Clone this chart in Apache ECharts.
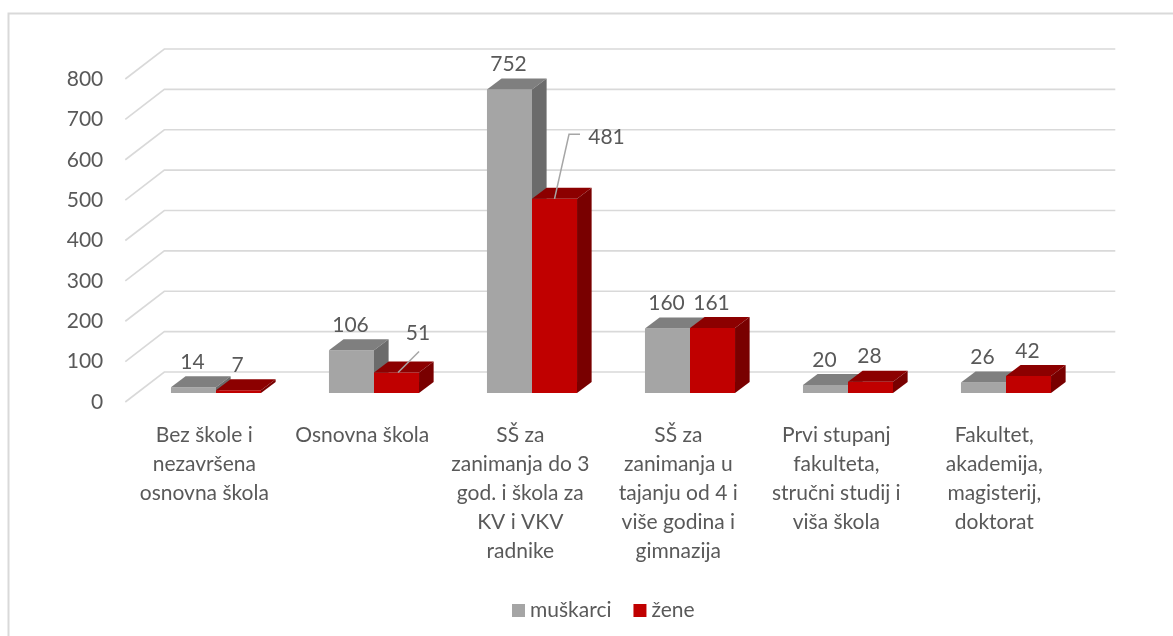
<!DOCTYPE html>
<html>
<head>
<meta charset="utf-8">
<script src="https://cdn.jsdelivr.net/npm/echarts@6/dist/echarts.min.js"></script>
<style>
  html, body { margin: 0; padding: 0; background: #ffffff; }
  #chart { width: 1173px; height: 636px; }
</style>
</head>
<body>
<div id="chart"></div>
<script>
// ---- data ----
const categories = [
  "Bez škole i\nnezavršena\nosnovna škola",
  "Osnovna škola",
  "SŠ za\nzanimanja do 3\ngod. i škola za\nKV i VKV\nradnike",
  "SŠ za\nzanimanja u\ntajanju od 4 i\nviše godina i\ngimnazija",
  "Prvi stupanj\nfakulteta,\nstručni studij i\nviša škola",
  "Fakultet,\nakademija,\nmagisterij,\ndoktorat"
];
const seriesNames = ["muškarci", "žene"];
const muskarci = [14, 106, 752, 160, 20, 26];
const zene = [7, 51, 481, 161, 28, 42];
const yTicks = [0, 100, 200, 300, 400, 500, 600, 700, 800];

// ---- styling / 3D geometry ----
const FONT = "Lato, 'Liberation Sans', sans-serif";
const TEXT = "#595959";
const GRID_LINE = "#D9D9D9";
const WALL_DX = 39, WALL_DY = -30;       // total floor depth
const BAR_DX = 14.6, BAR_DY = -11;       // bar depth
const COLORS = {
  "muškarci": { front: "#A5A5A5", top: "#7F7F7F", side: "#6B6B6B" },
  "žene":     { front: "#C00000", top: "#8C0000", side: "#790000" }
};
// special label placements (relative to front-top centre of bar)
const LABEL_OVERRIDES = {
  "žene-1": { dx: 21.5, dy: -39, leader: [[1.5, 0], [22.5, -21]] },
  "žene-2": { dx: 52, dy: -62, leader: [[0, 0], [14.5, -64.5], [25.5, -64.5]] }
};

const chart = echarts.init(document.getElementById('chart'));

function barRenderer(name, side) {
  const c = COLORS[name];
  return function (params, api) {
    const i = api.value(0), v = api.value(1);
    const base = api.coord([i, 0]);
    const top = api.coord([i, v]);
    const band = api.size([1, 0])[0];
    const w = band * 0.285;
    const x0 = side < 0 ? base[0] - w : base[0];
    const yT = top[1], yB = base[1];
    const children = [
      { type: 'rect', shape: { x: x0, y: yT, width: w, height: yB - yT }, style: { fill: c.front } },
      { type: 'polygon', shape: { points: [[x0, yT], [x0 + w, yT], [x0 + w + BAR_DX, yT + BAR_DY], [x0 + BAR_DX, yT + BAR_DY]] }, style: { fill: c.top } },
      { type: 'polygon', shape: { points: [[x0 + w, yT], [x0 + w + BAR_DX, yT + BAR_DY], [x0 + w + BAR_DX, yB + BAR_DY], [x0 + w, yB]] }, style: { fill: c.side } }
    ];
    const cx = x0 + w / 2;
    const ov = LABEL_OVERRIDES[name + '-' + params.dataIndex];
    let tx = cx - 1, ty = yT - 25;
    if (ov) {
      tx = cx + ov.dx; ty = yT + ov.dy;
      children.push({
        type: 'polyline',
        shape: { points: ov.leader.map(p => [cx + p[0], yT + p[1]]) },
        style: { stroke: '#A6A6A6', lineWidth: 1.5, fill: null }
      });
    }
    children.push({
      type: 'text', z2: 10,
      style: { text: String(v), x: tx, y: ty, fill: TEXT, font: '21px ' + FONT, align: 'center', verticalAlign: 'middle' }
    });
    return { type: 'group', children: children };
  };
}

function wallRenderer(params, api) {
  const y = api.coord([0, api.value(1)])[1];
  const x = params.coordSys.x;
  const wEnd = x + WALL_DX + params.coordSys.width + 3;
  return {
    type: 'polyline',
    shape: { points: [[x, y], [x + WALL_DX, y + WALL_DY], [wEnd, y + WALL_DY]] },
    style: { stroke: GRID_LINE, lineWidth: 1.6, fill: null }
  };
}

const option = {
  backgroundColor: '#ffffff',
  animation: false,
  graphic: [{
    type: 'rect', silent: true,
    shape: { x: 8.5, y: 13.5, width: 1300, height: 800 },
    style: { fill: null, stroke: '#D9D9D9', lineWidth: 2 }
  }],
  legend: {
    data: seriesNames,
    left: 507, top: 595,
    icon: 'rect', itemWidth: 13, itemHeight: 13, itemGap: 22,
    textStyle: { color: TEXT, fontSize: 21, fontFamily: FONT }
  },
  grid: [
    { left: 125.3, right: 99.7, top: 79, bottom: 234 },   // front plane (axis labels, wall lines)
    { left: 137, right: 88, top: 70, bottom: 243 }        // bar front plane
  ],
  xAxis: [
    {
      type: 'category', gridIndex: 0, data: categories,
      axisLine: { show: false }, axisTick: { show: false }, splitLine: { show: false },
      axisLabel: { interval: 0, margin: 18.5, color: TEXT, fontSize: 21, fontFamily: FONT, lineHeight: 29, align: 'center' }
    },
    { type: 'category', gridIndex: 1, data: categories, show: false }
  ],
  yAxis: [
    {
      type: 'value', gridIndex: 0, min: 0, max: 800, interval: 100,
      axisLine: { show: false }, axisTick: { show: false }, splitLine: { show: false },
      axisLabel: { margin: 22, color: TEXT, fontSize: 21, fontFamily: FONT }
    },
    { type: 'value', gridIndex: 1, min: 0, max: 800, interval: 100, show: false, splitLine: { show: false } }
  ],
  series: [
    {
      name: 'wall', type: 'custom', xAxisIndex: 0, yAxisIndex: 0, silent: true, z: 1,
      renderItem: wallRenderer,
      data: yTicks.map(v => [0, v])
    },
    {
      name: seriesNames[0], type: 'custom', xAxisIndex: 1, yAxisIndex: 1, z: 3,
      itemStyle: { color: COLORS[seriesNames[0]].front },
      renderItem: barRenderer(seriesNames[0], -1),
      data: muskarci.map((v, i) => [i, v])
    },
    {
      name: seriesNames[1], type: 'custom', xAxisIndex: 1, yAxisIndex: 1, z: 4,
      itemStyle: { color: COLORS[seriesNames[1]].front },
      renderItem: barRenderer(seriesNames[1], 1),
      data: zene.map((v, i) => [i, v])
    }
  ]
};
chart.setOption(option);
</script>
</body>
</html>
